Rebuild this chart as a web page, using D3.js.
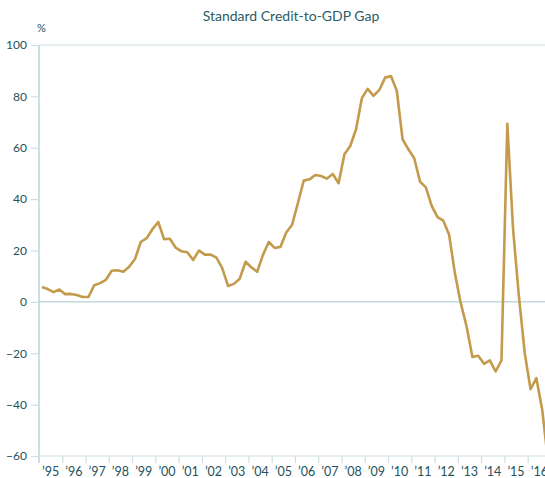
<!DOCTYPE html>
<html>
<head>
<meta charset="utf-8">
<script src="https://cdn.jsdelivr.net/npm/d3@7"></script>
<style>
  body { margin: 0; background: #fff; }
  svg { display: block; font-family: Lato, "Open Sans", sans-serif; }
</style>
</head>
<body>
<svg id="chart"></svg>
<script>
// quarterly values, 1995 Q1 .. 2016 Q4
const startYear = 1995;
const gap = [
  5.8, 5.0, 3.8, 4.8,      3.0, 3.1, 2.7, 1.9,      1.9, 6.5, 7.3, 8.6,
  12.1, 12.3, 11.7, 13.7,  16.7, 23.3, 24.8, 28.3,  31.1, 24.4, 24.6, 21.1,
  19.7, 19.3, 16.3, 20.0,  18.4, 18.4, 17.2, 13.1,  6.2, 7.0, 9.0, 15.6,
  13.5, 11.7, 18.3, 23.3,  21.0, 21.4, 27.0, 30.0,  38.4, 47.2, 47.7, 49.4,
  49.0, 48.0, 49.8, 46.2,  57.5, 60.7, 67.2, 79.3,  82.9, 80.2, 82.5, 87.3,
  87.9, 82.2, 63.3, 59.4,  55.9, 46.8, 44.6, 37.4,  33.0, 31.6, 26.1, 11.0,
  -0.5, -9.6, -21.5, -21.0, -24.1, -22.8, -27.1, -22.8, 69.3, 28.0, 2.0, -20.0,
  -34.0, -29.7, -42.0, -62.0
];
const years = d3.range(1995, 2017);
const yTicks = [-60, -40, -20, 0, 20, 40, 60, 80, 100];

const W = 545, H = 478;
const plotLeft = 39, plotTop = 45, plotBottom = 456;
const yearWidth = 23.27;

const ink = '#24525c';
const axisCol = '#cddfe3';
const lineCol = '#c49a4c';

const svg = d3.select('#chart').attr('width', W).attr('height', H);

const x = d3.scaleLinear()
  .domain([startYear, startYear + 22])
  .range([plotLeft, plotLeft + 22 * yearWidth]);
const y = d3.scaleLinear().domain([-60, 100]).range([plotBottom, plotTop]);

const data = gap.map((v, i) => ({ t: startYear + (i + 0.5) / 4, v }));

// title and unit
svg.append('text')
  .attr('x', 291).attr('y', 20.5)
  .attr('text-anchor', 'middle')
  .attr('fill', '#2b5d66')
  .style('font-size', '14px')
  .text('Standard Credit-to-GDP Gap');

svg.append('text')
  .attr('x', 37).attr('y', 32)
  .attr('fill', ink)
  .style('font-size', '11px')
  .text('%');

// top line at 100
svg.append('line')
  .attr('x1', plotLeft).attr('x2', W)
  .attr('y1', y(100)).attr('y2', y(100))
  .attr('stroke', axisCol).attr('stroke-width', 1.2);

// y axis
const yAxis = svg.append('g')
  .attr('transform', `translate(${plotLeft},0)`)
  .call(d3.axisLeft(y).tickValues(yTicks).tickSize(8).tickPadding(4));
yAxis.select('.domain').remove();
yAxis.selectAll('.tick line').attr('stroke', axisCol).attr('stroke-width', 1.2);
yAxis.selectAll('.tick text')
  .attr('fill', ink)
  .style('font-size', '12px')
  .style('font-family', 'Lato, sans-serif');

svg.append('line')
  .attr('x1', plotLeft).attr('x2', plotLeft)
  .attr('y1', plotTop).attr('y2', plotBottom + 7)
  .attr('stroke', axisCol).attr('stroke-width', 2);

// x axis
const xAxis = svg.append('g')
  .attr('transform', `translate(0,${plotBottom})`)
  .call(d3.axisBottom(x).tickValues(years.slice(1).concat([2017])).tickSize(7).tickFormat(''));
xAxis.select('.domain').remove();
xAxis.selectAll('.tick line').attr('stroke', axisCol).attr('stroke-width', 1.2);

svg.append('line')
  .attr('x1', plotLeft).attr('x2', W)
  .attr('y1', plotBottom).attr('y2', plotBottom)
  .attr('stroke', axisCol).attr('stroke-width', 1.2);

svg.append('g').selectAll('text')
  .data(years)
  .join('text')
  .attr('x', d => x(d + 0.5))
  .attr('y', 476)
  .attr('text-anchor', 'middle')
  .attr('fill', ink)
  .style('font-size', '12.5px')
  .text(d => '\u2019' + String(d).slice(2));

// zero line
svg.append('line')
  .attr('x1', plotLeft).attr('x2', W)
  .attr('y1', y(0)).attr('y2', y(0))
  .attr('stroke', '#a3c6cd').attr('stroke-width', 1);

// series
svg.append('clipPath').attr('id', 'plot')
  .append('rect')
  .attr('x', plotLeft).attr('y', plotTop - 5)
  .attr('width', W - plotLeft).attr('height', plotBottom - plotTop + 5);

const line = d3.line().x(d => x(d.t)).y(d => y(d.v));

svg.append('path')
  .datum(data)
  .attr('clip-path', 'url(#plot)')
  .attr('fill', 'none')
  .attr('stroke', lineCol)
  .attr('stroke-width', 2.6)
  .attr('stroke-linejoin', 'round')
  .attr('d', line);
</script>
</body>
</html>
